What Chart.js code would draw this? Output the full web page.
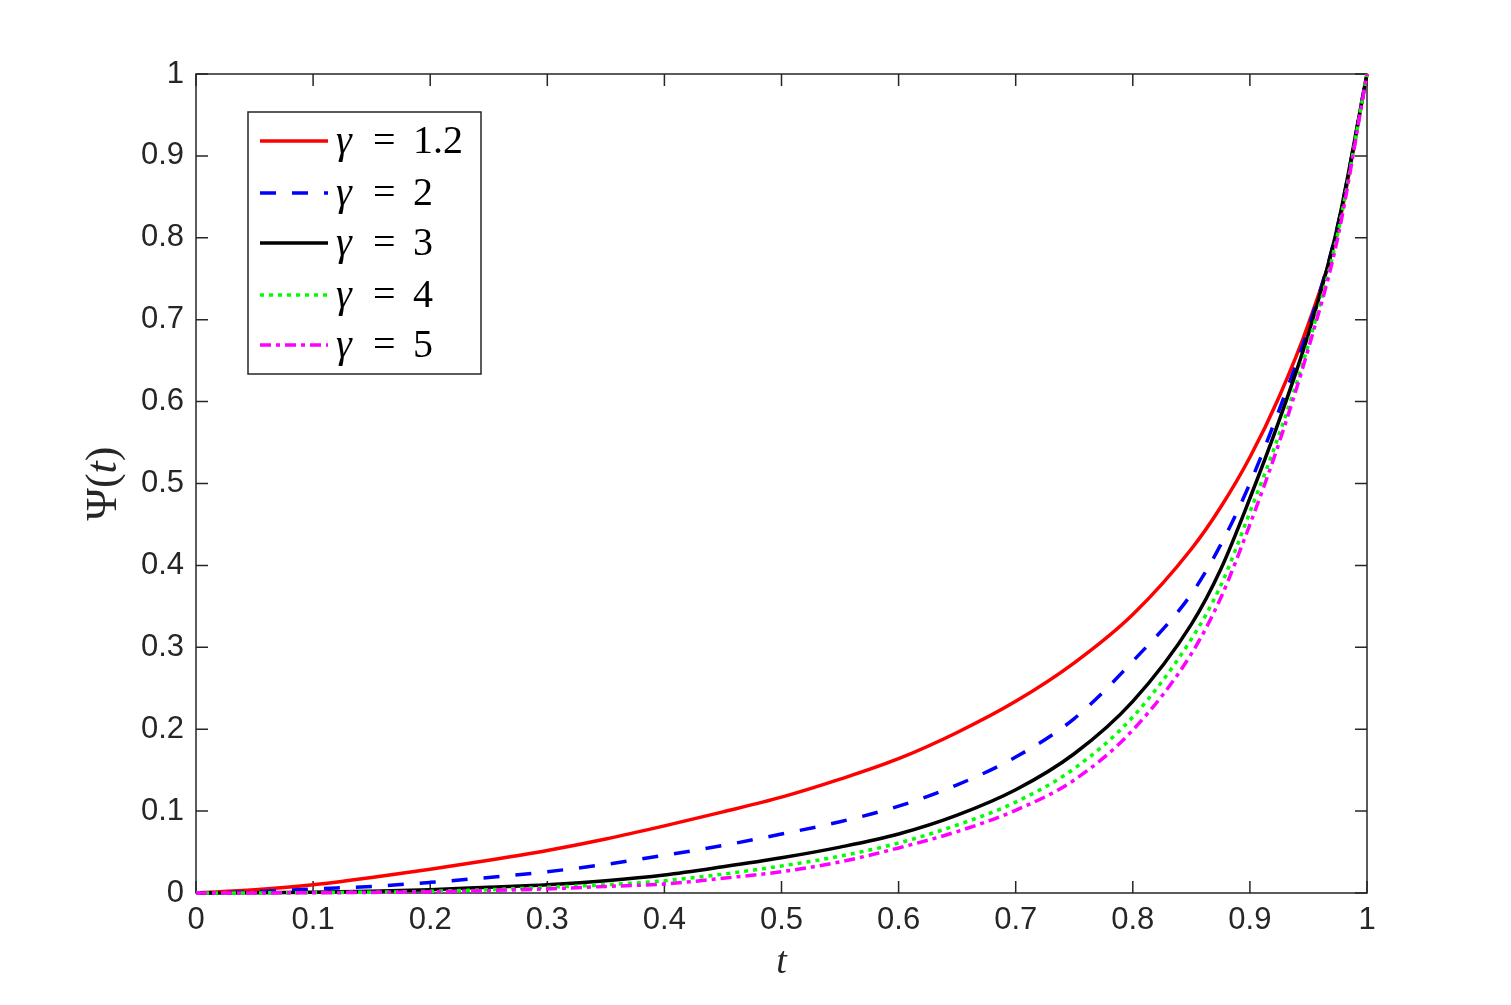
<!DOCTYPE html>
<html>
<head>
<meta charset="utf-8">
<script src="https://cdn.jsdelivr.net/npm/chart.js@4/dist/chart.umd.min.js"></script>
<style>
  html, body { margin: 0; background: #fff; }
</style>
</head>
<body>
<canvas id="chart" width="1511" height="1005"></canvas>
<script>
// values
const tValues = [0, 0.05, 0.1, 0.15, 0.2, 0.25, 0.3, 0.35, 0.4, 0.45, 0.5, 0.55, 0.6, 0.65, 0.7, 0.75, 0.8, 0.85, 0.875, 0.9, 0.925, 0.95, 0.975, 1];
const psiGamma12 = [0, 0.004, 0.010, 0.019, 0.029, 0.040, 0.052, 0.066, 0.082, 0.099, 0.117, 0.139, 0.164, 0.196, 0.234, 0.281, 0.34, 0.42, 0.471, 0.532, 0.606, 0.695, 0.81, 1];
const psiGamma2 = [0, 0.0015, 0.005, 0.008, 0.013, 0.019, 0.026, 0.035, 0.046, 0.058, 0.072, 0.087, 0.106, 0.132, 0.166, 0.213, 0.283, 0.365, 0.425, 0.5, 0.59, 0.69, 0.815, 1];
const psiGamma3 = [0, 0.0003, 0.001, 0.002, 0.004, 0.007, 0.010, 0.015, 0.022, 0.032, 0.043, 0.056, 0.072, 0.095, 0.126, 0.170, 0.234, 0.328, 0.395, 0.482, 0.577, 0.683, 0.815, 1];
const psiGamma4 = [0, 0.0001, 0.0005, 0.001, 0.002, 0.004, 0.007, 0.010, 0.015, 0.023, 0.033, 0.045, 0.061, 0.083, 0.111, 0.152, 0.215, 0.31, 0.375, 0.465, 0.56, 0.67, 0.805, 1];
const psiGamma5 = [0, 0.0001, 0.0003, 0.0007, 0.0015, 0.003, 0.005, 0.008, 0.011, 0.018, 0.026, 0.038, 0.055, 0.075, 0.101, 0.138, 0.199, 0.292, 0.36, 0.45, 0.55, 0.665, 0.80, 1];
const gammaLabels = ['1.2', '2', '3', '4', '5'];
const xTicks = [0, 0.1, 0.2, 0.3, 0.4, 0.5, 0.6, 0.7, 0.8, 0.9, 1];
const yTicks = [0, 0.1, 0.2, 0.3, 0.4, 0.5, 0.6, 0.7, 0.8, 0.9, 1];

const ink = '#262626';
const tickFont = { family: '"Liberation Sans", Arial, sans-serif', size: 31 };

const styles = [
  { color: '#ff0000', dash: [] },
  { color: '#0000ff', dash: [16, 16] },
  { color: '#000000', dash: [] },
  { color: '#00ff00', dash: [4, 5] },
  { color: '#ff00ff', dash: [11, 5, 4, 5] }
];
const allSeries = [psiGamma12, psiGamma2, psiGamma3, psiGamma4, psiGamma5];

const datasets = allSeries.map((vals, i) => ({
  label: 'γ = ' + gammaLabels[i],
  data: tValues.map((t, k) => ({ x: t, y: vals[k] })),
  borderColor: styles[i].color,
  borderDash: styles[i].dash,
  borderWidth: 3.5,
  pointRadius: 0,
  fill: false,
  cubicInterpolationMode: 'monotone',
  clip: 6,
  order: allSeries.length - i
}));

// box + inward ticks like matlab, drawn under the lines
const axesBox = {
  id: 'axesBox',
  beforeDatasetsDraw(chart) {
    const { ctx, chartArea: a, scales: { x, y } } = chart;
    ctx.save();
    ctx.strokeStyle = ink;
    ctx.lineWidth = 1.5;
    ctx.strokeRect(a.left, a.top, a.right - a.left, a.bottom - a.top);
    ctx.beginPath();
    xTicks.forEach(v => {
      const px = x.getPixelForValue(v);
      ctx.moveTo(px, a.bottom); ctx.lineTo(px, a.bottom - 12);
      ctx.moveTo(px, a.top); ctx.lineTo(px, a.top + 12);
    });
    yTicks.forEach(v => {
      const py = y.getPixelForValue(v);
      ctx.moveTo(a.left, py); ctx.lineTo(a.left + 12, py);
      ctx.moveTo(a.right, py); ctx.lineTo(a.right - 12, py);
    });
    ctx.stroke();
    ctx.restore();
  },
  afterDraw(chart) {
    const { ctx, chartArea: a } = chart;
    ctx.save();
    ctx.fillStyle = ink;
    // x title
    ctx.font = 'italic 38px "Liberation Serif", serif';
    ctx.textAlign = 'center';
    ctx.textBaseline = 'alphabetic';
    ctx.fillText('t', (a.left + a.right) / 2, 973);
    // y title, rotated
    ctx.translate(116, (a.top + a.bottom) / 2);
    ctx.rotate(-Math.PI / 2);
    ctx.textAlign = 'left';
    const up = '44px "Liberation Serif", serif';
    const it = 'italic 44px "Liberation Serif", serif';
    const parts = [['Ψ', up], ['(', up], ['t', it], [')', up]];
    let total = 0;
    parts.forEach(([s, f]) => { ctx.font = f; total += ctx.measureText(s).width; });
    let cx = -total / 2;
    parts.forEach(([s, f]) => { ctx.font = f; ctx.fillText(s, cx, 0); cx += ctx.measureText(s).width; });
    ctx.restore();

    // legend box
    ctx.save();
    ctx.fillStyle = '#fff';
    ctx.fillRect(248, 112, 233, 262);
    ctx.strokeStyle = ink;
    ctx.lineWidth = 1.5;
    ctx.strokeRect(248, 112, 233, 262);
    const rows = [141, 193, 243, 295, 345];
    rows.forEach((ry, i) => {
      ctx.beginPath();
      ctx.strokeStyle = styles[i].color;
      ctx.lineWidth = 3.5;
      ctx.setLineDash(styles[i].dash);
      ctx.moveTo(260, ry);
      ctx.lineTo(328, ry);
      ctx.stroke();
      ctx.setLineDash([]);
      ctx.fillStyle = '#000';
      ctx.textBaseline = 'alphabetic';
      ctx.textAlign = 'left';
      ctx.font = 'italic 40px "Liberation Serif", serif';
      ctx.fillText('γ', 336, ry + 12);
      ctx.font = '40px "Liberation Serif", serif';
      ctx.fillText('=', 373, ry + 12);
      ctx.fillText(gammaLabels[i], 413, ry + 12);
    });
    ctx.restore();
  }
};

new Chart(document.getElementById('chart'), {
  type: 'line',
  data: { datasets },
  options: {
    responsive: false,
    animation: false,
    layout: { padding: { top: 74, right: 144, left: 0, bottom: 0 } },
    plugins: { legend: { display: false }, tooltip: { enabled: false } },
    scales: {
      x: {
        type: 'linear',
        min: 0,
        max: 1,
        afterBuildTicks: s => { s.ticks = xTicks.map(v => ({ value: v })); },
        afterFit: s => { s.height = 112; },
        grid: { display: false, drawTicks: false },
        border: { display: false },
        ticks: {
          callback: v => String(+v.toFixed(1)),
          font: tickFont,
          color: ink,
          padding: 9,
          maxRotation: 0,
          autoSkip: false
        }
      },
      y: {
        type: 'linear',
        min: 0,
        max: 1,
        afterBuildTicks: s => { s.ticks = yTicks.map(v => ({ value: v })); },
        afterFit: s => { s.width = 196; },
        grid: { display: false, drawTicks: false },
        border: { display: false },
        ticks: {
          callback: v => String(+v.toFixed(1)),
          font: tickFont,
          color: ink,
          padding: 12,
          autoSkip: false
        }
      }
    }
  },
  plugins: [axesBox]
});
</script>
</body>
</html>
